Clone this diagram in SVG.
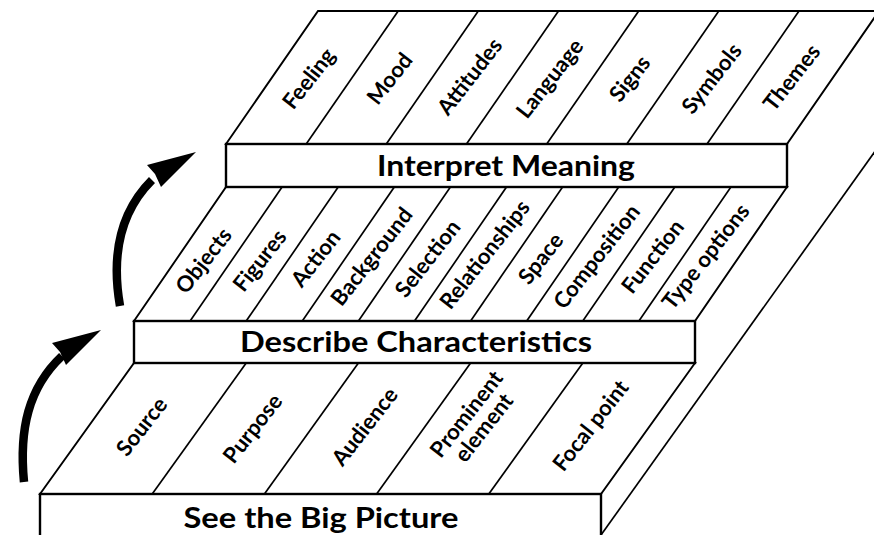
<svg xmlns="http://www.w3.org/2000/svg" width="874" height="535" viewBox="0 0 874 535">
<defs>
<style>
.face{fill:#fff;stroke:#000;stroke-width:2.4;stroke-linejoin:miter}
.surf{fill:#fff;stroke:#000;stroke-width:1.9}
.div{stroke:#000;stroke-width:1.7;fill:none}
.title{font-family:Lato,"Liberation Sans",sans-serif;font-weight:700;font-size:29px;fill:#000;text-anchor:middle}
.lab{font-family:Lato,"Liberation Sans",sans-serif;font-weight:700;font-size:22px;fill:#000;text-anchor:middle;dominant-baseline:central}
.arr{fill:none;stroke:#000;stroke-width:8.5;stroke-linecap:butt}
</style>
</defs>
<rect width="874" height="535" fill="#fff"/>

<g id="side">
<line class="div" x1="601" y1="535" x2="876" y2="150"/>
</g>

<g id="level1">
<polygon class="surf" points="40,494 601,494 695,363 134,363"/>
<g class="div">
<line x1="152.2" y1="494" x2="246.2" y2="363"/>
<line x1="264.4" y1="494" x2="358.4" y2="363"/>
<line x1="376.6" y1="494" x2="470.6" y2="363"/>
<line x1="488.8" y1="494" x2="582.8" y2="363"/>
</g>
<rect class="face" x="40" y="494" width="561" height="50"/>
<text class="title" x="321" y="528" textLength="275" lengthAdjust="spacingAndGlyphs">See the Big Picture</text>
<text class="lab" transform="translate(141,426) rotate(-52)">Source</text>
<text class="lab" transform="translate(252,428) rotate(-52)">Purpose</text>
<text class="lab" transform="translate(364,426) rotate(-52)">Audience</text>
<text class="lab" transform="translate(474,420) rotate(-52)"><tspan x="0" dy="-0.5em">Prominent</tspan><tspan x="0" dy="1.0em">element</tspan></text>
<text class="lab" transform="translate(590,425) rotate(-52)">Focal point</text>
</g>

<g id="level2">
<polygon class="surf" points="134,321 695,321 787,187 226,187"/>
<g class="div">
<line x1="190.1" y1="321" x2="282.1" y2="187"/>
<line x1="246.2" y1="321" x2="338.2" y2="187"/>
<line x1="302.3" y1="321" x2="394.3" y2="187"/>
<line x1="358.4" y1="321" x2="450.4" y2="187"/>
<line x1="414.5" y1="321" x2="506.5" y2="187"/>
<line x1="470.6" y1="321" x2="562.6" y2="187"/>
<line x1="526.7" y1="321" x2="618.7" y2="187"/>
<line x1="582.8" y1="321" x2="674.8" y2="187"/>
<line x1="638.9" y1="321" x2="730.9" y2="187"/>
</g>
<rect class="face" x="134" y="321" width="561" height="42"/>
<text class="title" x="416" y="352" textLength="352" lengthAdjust="spacingAndGlyphs">Describe Characteristics</text>
<text class="lab" transform="translate(203,260) rotate(-52)">Objects</text>
<text class="lab" transform="translate(259,260) rotate(-52)">Figures</text>
<text class="lab" transform="translate(315,258) rotate(-52)">Action</text>
<text class="lab" transform="translate(371,256) rotate(-52)">Background</text>
<text class="lab" transform="translate(427,258) rotate(-52)">Selection</text>
<text class="lab" transform="translate(484,254) rotate(-52)">Relationships</text>
<text class="lab" transform="translate(540,258) rotate(-52)">Space</text>
<text class="lab" transform="translate(596,256) rotate(-52)">Composition</text>
<text class="lab" transform="translate(652,256) rotate(-52)">Function</text>
<text class="lab" transform="translate(705,256) rotate(-52)">Type options</text>
</g>

<g id="level3">
<polygon class="surf" points="226,144 787,144 879,11 318,11"/>
<g class="div">
<line x1="306.2" y1="144" x2="398.2" y2="11"/>
<line x1="386.3" y1="144" x2="478.3" y2="11"/>
<line x1="466.5" y1="144" x2="558.5" y2="11"/>
<line x1="546.7" y1="144" x2="638.7" y2="11"/>
<line x1="626.8" y1="144" x2="718.8" y2="11"/>
<line x1="707" y1="144" x2="799" y2="11"/>
</g>
<rect class="face" x="226" y="144" width="561" height="43"/>
<text class="title" x="506" y="176" textLength="258" lengthAdjust="spacingAndGlyphs">Interpret Meaning</text>
<text class="lab" transform="translate(308,78) rotate(-52)">Feeling</text>
<text class="lab" transform="translate(389,78) rotate(-52)">Mood</text>
<text class="lab" transform="translate(469,76) rotate(-52)">Attitudes</text>
<text class="lab" transform="translate(549,78) rotate(-52)">Language</text>
<text class="lab" transform="translate(629,78) rotate(-52)">Signs</text>
<text class="lab" transform="translate(711,78) rotate(-52)">Symbols</text>
<text class="lab" transform="translate(791,77) rotate(-52)">Themes</text>
</g>

<g id="connectors">
<path class="arr" d="M24,482 C19,430 28,388 62,356"/>
<polygon points="101,330 52,343 60,352 66,365"/>
<path class="arr" d="M120,306 C112,260 118,214 152,180"/>
<polygon points="196,152 147,165 155,174 161,187"/>
</g>
</svg>
